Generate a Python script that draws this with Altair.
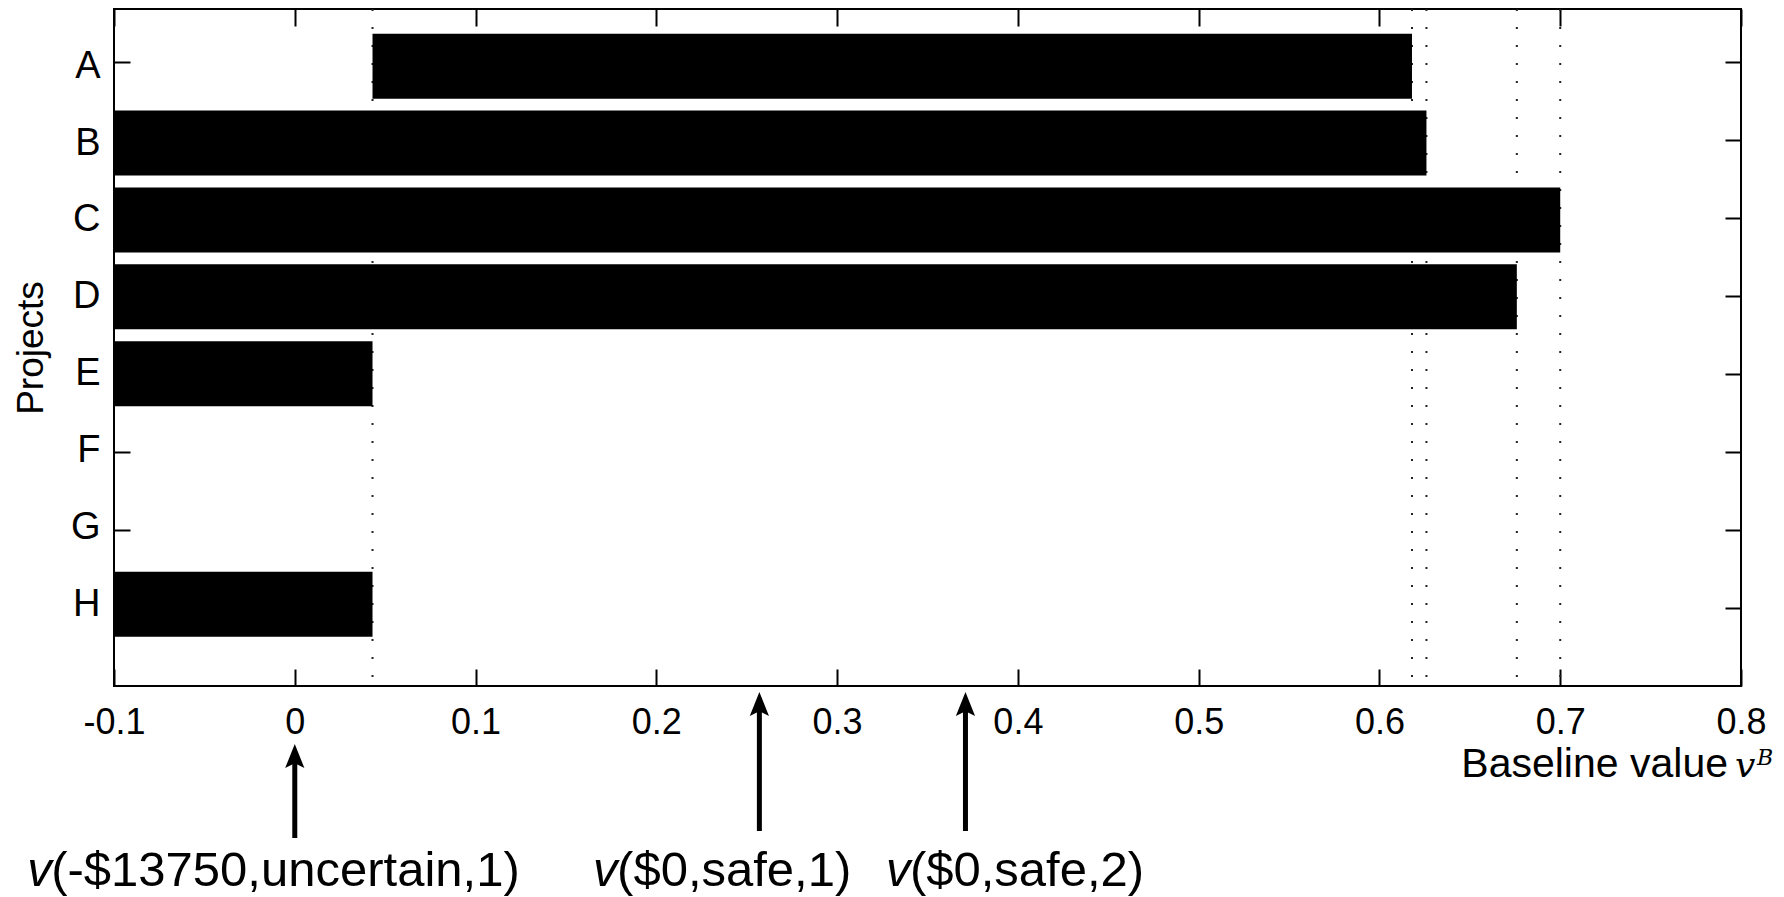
import altair as alt
import pandas as pd

# ---------------- data ----------------
projects = ["A", "B", "C", "D", "E", "F", "G", "H"]
bar_start = [0.043, -0.1, -0.1, -0.1, -0.1, None, None, -0.1]
bar_end = [0.618, 0.626, 0.700, 0.676, 0.043, None, None, 0.043]
thresholds = [0.043, 0.618, 0.626, 0.676, 0.700]
x_ticks = [-0.1, 0, 0.1, 0.2, 0.3, 0.4, 0.5, 0.6, 0.7, 0.8]
arrow_x = [0.0, 0.257, 0.371]
label_start = [-0.148, 0.165, 0.327]
label_rest = ["(-$13750,uncertain,1)", "($0,safe,1)", "($0,safe,2)"]
title_parts = ["Baseline value", "v", "B"]

# ---------------- layout ----------------
W, H = 1627, 677
X_DOMAIN = [-0.1, 0.8]
Y_DOMAIN = [0.32, 9]
FONT = "Liberation Sans"

bars_df = pd.DataFrame({
    "project": projects,
    "pos": list(range(1, len(projects) + 1)),
    "start": bar_start,
    "end": bar_end,
})
thr_df = pd.DataFrame({"v": thresholds})
arrow_df = pd.DataFrame({"x": arrow_x, "i": list(range(len(arrow_x)))})
lab_df = pd.DataFrame({"x": label_start, "rest": label_rest})
title_df = pd.DataFrame({"t": [title_parts[0]], "v": [title_parts[1]], "b": [title_parts[2]]})

y_vals = list(range(1, len(projects) + 1))
y_label_expr = "[" + ",".join(f"'{p}'" for p in projects) + "][round(datum.value) - 1]"


def xs():
    return alt.Scale(domain=X_DOMAIN, nice=False, zero=False)


def ys():
    return alt.Scale(domain=Y_DOMAIN, nice=False, zero=False, reverse=True)


# dotted reference lines (behind bars)
rules = alt.Chart(thr_df).mark_rule(color="#222222", strokeWidth=2, strokeDash=[2, 16]).encode(
    x=alt.X("v:Q", scale=xs(), axis=None)
)

# bars with the labelled axes
bars = alt.Chart(bars_df).mark_bar(color="black", orient="horizontal", size=65).encode(
    x=alt.X("start:Q", scale=xs(), axis=alt.Axis(
        orient="bottom", values=x_ticks, labelExpr="'' + datum.value",
        ticks=False, tickSize=0, domain=False, grid=False,
        labelFont=FONT, labelFontSize=36, labelColor="black", labelPadding=19,
        labelFlush=False, labelOverlap=False, labelBound=False, title=None)),
    x2="end:Q",
    y=alt.Y("pos:Q", scale=ys(), axis=alt.Axis(
        orient="left", values=y_vals, labelExpr=y_label_expr,
        ticks=False, tickSize=0, domain=False, grid=False,
        labelFont=FONT, labelFontSize=38, labelColor="black", labelPadding=14,
        labelOverlap=False, labelBound=False,
        title="Projects", titleFont=FONT, titleFontSize=37, titleFontWeight="normal",
        titleColor="black", titlePadding=20)),
)

# inward ticks: bottom edge and left edge
ticks_a = alt.Chart(bars_df).mark_point(opacity=0).encode(
    x=alt.X("end:Q", scale=xs(), axis=alt.Axis(
        orient="top", offset=-H, values=x_ticks, labels=False, domain=False, grid=False,
        ticks=True, tickSize=17, tickWidth=2, tickColor="black", title=None)),
    y=alt.Y("pos:Q", scale=ys(), axis=alt.Axis(
        orient="right", offset=-W, values=y_vals, labels=False, domain=False, grid=False,
        ticks=True, tickSize=16, tickWidth=2, tickColor="black", title=None)),
)

# inward ticks: top edge and right edge
ticks_b = alt.Chart(bars_df).mark_point(opacity=0).encode(
    x=alt.X("end:Q", scale=xs(), axis=alt.Axis(
        orient="bottom", offset=-H, values=x_ticks, labels=False, domain=False, grid=False,
        ticks=True, tickSize=17, tickWidth=2, tickColor="black", title=None)),
    y=alt.Y("pos:Q", scale=ys(), axis=alt.Axis(
        orient="left", offset=-W, values=y_vals, labels=False, domain=False, grid=False,
        ticks=True, tickSize=16, tickWidth=2, tickColor="black", title=None)),
)

HEAD = "M0,-1L0.8,1L0,0.6L-0.8,1Z"

shaft1 = alt.Chart(arrow_df).transform_filter("datum.i == 0").mark_rule(
    color="black", strokeWidth=5).encode(
    x=alt.X("x:Q", scale=xs(), axis=None), y=alt.value(746), y2=alt.value(829))
head1 = alt.Chart(arrow_df).transform_filter("datum.i == 0").mark_point(
    shape=HEAD, filled=True, size=576, color="black", opacity=1, strokeWidth=0).encode(
    x=alt.X("x:Q", scale=xs(), axis=None), y=alt.value(747))
shaft2 = alt.Chart(arrow_df).transform_filter("datum.i > 0").mark_rule(
    color="black", strokeWidth=5).encode(
    x=alt.X("x:Q", scale=xs(), axis=None), y=alt.value(694), y2=alt.value(822))
head2 = alt.Chart(arrow_df).transform_filter("datum.i > 0").mark_point(
    shape=HEAD, filled=True, size=576, color="black", opacity=1, strokeWidth=0).encode(
    x=alt.X("x:Q", scale=xs(), axis=None), y=alt.value(695))

lab_v = alt.Chart(lab_df).mark_text(
    text="v", font=FONT, fontStyle="italic", fontSize=49, align="left",
    baseline="alphabetic", color="black").encode(
    x=alt.X("x:Q", scale=xs(), axis=None), y=alt.value(877))
lab_rest = alt.Chart(lab_df).mark_text(
    font=FONT, fontSize=49, align="left", baseline="alphabetic", dx=24, color="black").encode(
    x=alt.X("x:Q", scale=xs(), axis=None), y=alt.value(877), text="rest:N")

t_main = alt.Chart(title_df).mark_text(
    font=FONT, fontSize=41, align="right", baseline="alphabetic", color="black").encode(
    x=alt.value(1614), y=alt.value(768), text="t:N")
t_v = alt.Chart(title_df).mark_text(
    font="DejaVu Serif", fontStyle="italic", fontSize=36, align="left",
    baseline="alphabetic", color="black").encode(
    x=alt.value(1621), y=alt.value(768), text="v:N")
t_b = alt.Chart(title_df).mark_text(
    font="DejaVu Serif", fontStyle="italic", fontSize=22, align="left",
    baseline="alphabetic", color="black").encode(
    x=alt.value(1643), y=alt.value(756), text="b:N")

chart = alt.layer(
    rules, bars, ticks_a, ticks_b,
    shaft1, head1, shaft2, head2,
    lab_v, lab_rest, t_main, t_v, t_b,
).resolve_scale(
    x="independent", y="independent"
).properties(
    width=W, height=H,
    padding={"left": 106, "top": 1, "right": 34, "bottom": 211},
    autosize=alt.AutoSizeParams(type="none"),
).configure_view(
    stroke="black", strokeWidth=2
)

chart.save("out.html", embed_options={"renderer": "svg", "actions": False})
